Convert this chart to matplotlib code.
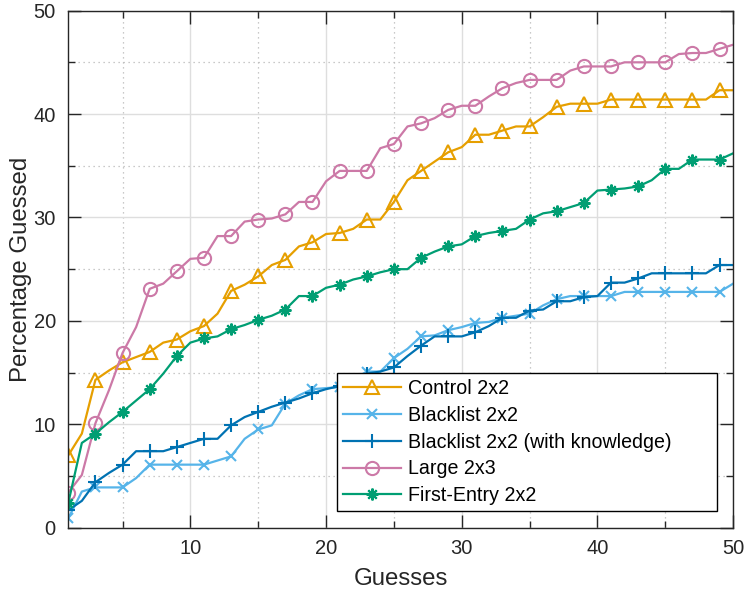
import matplotlib
matplotlib.use("Agg")
import matplotlib.pyplot as plt
import matplotlib.ticker as ticker

plt.rcParams["font.family"] = ["Liberation Sans", "DejaVu Sans"]

guesses = list(range(1, 51))

control = [7.0, 9.1, 14.3, 15.2, 16.0, 16.5, 17.0, 17.9, 18.2, 19.0,
           19.5, 20.7, 22.9, 23.5, 24.3, 25.4, 25.9, 27.2, 27.6, 28.4,
           28.5, 28.9, 29.8, 29.8, 31.5, 33.6, 34.5, 35.4, 36.3, 36.8,
           38.0, 38.0, 38.4, 38.8, 38.8, 39.7, 40.7, 41.0, 41.0, 41.0,
           41.4, 41.4, 41.4, 41.4, 41.4, 41.4, 41.4, 41.4, 42.3, 42.3]
blacklist = [0.9, 3.5, 3.9, 3.9, 3.9, 4.8, 6.1, 6.1, 6.1, 6.1,
             6.1, 6.5, 6.9, 8.6, 9.5, 9.9, 12.0, 12.8, 13.4, 13.5,
             13.6, 14.3, 15.1, 15.1, 16.4, 17.3, 18.5, 18.6, 19.1, 19.4,
             19.8, 19.9, 20.3, 20.5, 20.7, 21.5, 22.1, 22.4, 22.4, 22.4,
             22.4, 22.8, 22.8, 22.8, 22.8, 22.8, 22.8, 22.8, 22.8, 23.6]
blacklist_know = [1.7, 2.6, 4.4, 5.3, 6.1, 7.4, 7.4, 7.4, 7.8, 8.2,
                  8.6, 8.6, 9.9, 10.7, 11.2, 11.7, 12.1, 12.5, 13.0, 13.4,
                  13.7, 14.2, 14.9, 15.1, 15.5, 16.6, 17.6, 18.5, 18.5, 18.5,
                  18.9, 19.5, 20.3, 20.3, 21.0, 21.1, 21.9, 21.9, 22.3, 22.4,
                  23.7, 23.7, 24.1, 24.6, 24.6, 24.6, 24.6, 24.6, 25.4, 25.4]
large = [3.4, 5.1, 10.1, 13.3, 16.9, 19.4, 23.1, 23.6, 24.8, 26.0,
         26.1, 28.2, 28.2, 29.6, 29.8, 29.9, 30.3, 31.5, 31.5, 33.5,
         34.5, 34.5, 34.5, 36.7, 37.1, 38.8, 39.1, 39.6, 40.4, 40.8,
         40.8, 41.7, 42.5, 43.0, 43.3, 43.3, 43.3, 44.2, 44.6, 44.6,
         44.6, 45.0, 45.0, 45.0, 45.0, 45.8, 45.9, 45.9, 46.3, 46.7]
first_entry = [2.4, 8.2, 9.1, 10.2, 11.2, 12.3, 13.4, 14.9, 16.6, 17.9,
               18.3, 18.5, 19.2, 19.6, 20.1, 20.5, 21.1, 22.4, 22.4, 23.2,
               23.5, 24.0, 24.3, 24.7, 25.0, 25.0, 26.1, 26.7, 27.2, 27.4,
               28.2, 28.5, 28.7, 28.9, 29.8, 30.4, 30.6, 31.0, 31.4, 32.6,
               32.7, 32.8, 33.0, 33.6, 34.7, 34.7, 35.6, 35.6, 35.6, 36.2]

series = [
    (control,        "Control 2x2",                    "#E69F00", "^",       9.5, "none"),
    (blacklist,      "Blacklist 2x2",                  "#56B4E9", "x",       7,   None),
    (blacklist_know, "Blacklist 2x2 (with knowledge)", "#0072B2", "+",       10,  None),
    (large,          "Large 2x3",                      "#CC79A7", "o",       9.5, "none"),
    (first_entry,    "First-Entry 2x2",                "#009E73", (8, 2, 0), 8.5, None),
]

fig = plt.figure(figsize=(7.47, 5.89), dpi=100)
ax = fig.add_axes([0.0914, 0.104, 0.890, 0.878])

for vals, label, color, mk, ms, mfc in series:
    kw = dict(color=color, linewidth=1.6, marker=mk, markersize=ms,
              markevery=2, markeredgewidth=1.5, label=label)
    if mfc is not None:
        kw["markerfacecolor"] = mfc
    ax.plot(guesses, vals, **kw)

ax.set_xlim(1, 50)
ax.set_ylim(0, 50)
ax.xaxis.set_major_locator(ticker.MultipleLocator(10))
ax.xaxis.set_minor_locator(ticker.MultipleLocator(5))
ax.yaxis.set_major_locator(ticker.MultipleLocator(10))
ax.yaxis.set_minor_locator(ticker.MultipleLocator(5))

ax.grid(True, which="major", color="#dedede", linewidth=1.0, linestyle="-")
ax.grid(True, which="minor", color="#b8b8b8", linewidth=0.9, linestyle=(0, (1, 3)))
ax.set_axisbelow(True)

ax.tick_params(which="both", direction="in", top=True, right=True,
               colors="#262626", labelsize=14.5, width=1.0)
ax.tick_params(which="major", length=9.5)
ax.tick_params(which="minor", length=5)
ax.tick_params(axis="x", which="major", pad=8)
ax.tick_params(axis="y", which="major", pad=9)
for s in ax.spines.values():
    s.set_color("#262626")
    s.set_linewidth(1.0)

ax.set_xlabel("Guesses", fontsize=17.3, color="#262626", labelpad=7)
ax.set_ylabel("Percentage Guessed", fontsize=17.3, color="#262626", labelpad=1)

leg = ax.legend(loc="lower left", bbox_to_anchor=(0.404, 0.032, 0.572, 0.263),
                mode="expand", borderaxespad=0, fontsize=14.1, handlelength=3.0,
                fancybox=False, framealpha=1, edgecolor="black",
                labelspacing=0.4, handletextpad=0.35, borderpad=0.3)
leg.get_frame().set_linewidth(1.0)

fig.savefig("out.png", dpi=100)
